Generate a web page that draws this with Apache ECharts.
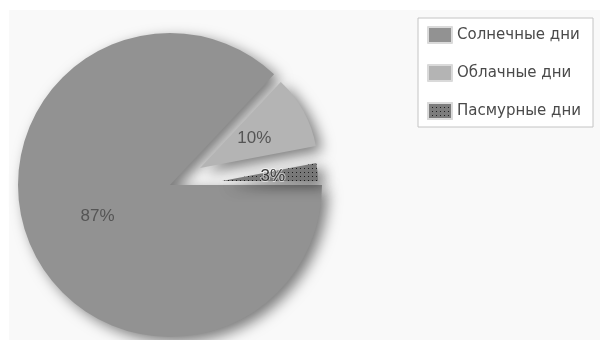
<!DOCTYPE html>
<html>
<head>
<meta charset="utf-8">
<script src="https://cdn.jsdelivr.net/npm/echarts@6/dist/echarts.min.js"></script>
<style>
  html, body { margin: 0; padding: 0; background: #fff; }
  #chart { width: 600px; height: 340px; }
</style>
</head>
<body>
<div id="chart"></div>
<script>
// weather share
const names = ['Солнечные дни', 'Облачные дни', 'Пасмурные дни'];
const values = [87, 10, 3];

const colors = ['#929292', '#b4b4b4', '#7c7c7c'];
const dots = { symbol: 'rect', symbolSize: 1, dashArrayX: [1, 3], dashArrayY: [1, 3], color: '#1e1e1e' };

// each slice gets its own pie so the small ones can be pulled out
const layouts = [
  { center: [170, 185], radius: 152 },
  { center: [200, 168], radius: 118 },
  { center: [222, 181], radius: 96 }
];

const chart = echarts.init(document.getElementById('chart'), null, { renderer: 'canvas' });

function sliceStyle(i) {
  const s = {
    color: colors[i],
    shadowBlur: 14,
    shadowColor: 'rgba(0,0,0,0.5)',
    shadowOffsetX: 6,
    shadowOffsetY: 5
  };
  if (i === 2) s.decal = dots;
  return s;
}

const series = layouts.map(function (lay, i) {
  return {
    type: 'pie',
    center: lay.center,
    radius: lay.radius,
    startAngle: 0,
    clockwise: true,
    silent: true,
    animation: false,
    avoidLabelOverlap: false,
    label: {
      position: 'inside',
      formatter: '{d}%',
      fontFamily: 'Liberation Sans',
      fontSize: 17,
      color: i === 2 ? '#3a3a3a' : '#555',
      textBorderColor: i === 2 ? 'rgba(255,255,255,0.55)' : 'transparent',
      textBorderWidth: i === 2 ? 2 : 0
    },
    labelLine: { show: false },
    data: values.map(function (v, j) {
      return {
        name: names[j],
        value: v,
        itemStyle: j === i ? sliceStyle(j) : { color: 'transparent' },
        label: { show: j === i }
      };
    })
  };
});

chart.setOption({
  backgroundColor: '#fff',
  graphic: [{
    type: 'rect',
    z: -10,
    silent: true,
    shape: { x: 9, y: 10, width: 591, height: 330 },
    style: { fill: '#f9f9f9' }
  }],
  legend: {
    orient: 'vertical',
    left: 418,
    top: 18,
    selectedMode: false,
    backgroundColor: '#fff',
    borderColor: '#c4c4c4',
    borderWidth: 1,
    borderRadius: 0,
    padding: [8, 8, 7, 9],
    itemWidth: 24,
    itemHeight: 16,
    itemGap: 20,
    icon: 'rect',
    textStyle: { fontFamily: 'DejaVu Sans', fontSize: 15, lineHeight: 16, color: '#4a4a4a', padding: [0, 4, 0, 0] },
    data: names.map(function (n, i) {
      const st = { color: colors[i], borderColor: '#dadada', borderWidth: 2 };
      if (i === 2) st.decal = dots;
      return { name: n, itemStyle: st };
    })
  },
  series: series
});
</script>
</body>
</html>
